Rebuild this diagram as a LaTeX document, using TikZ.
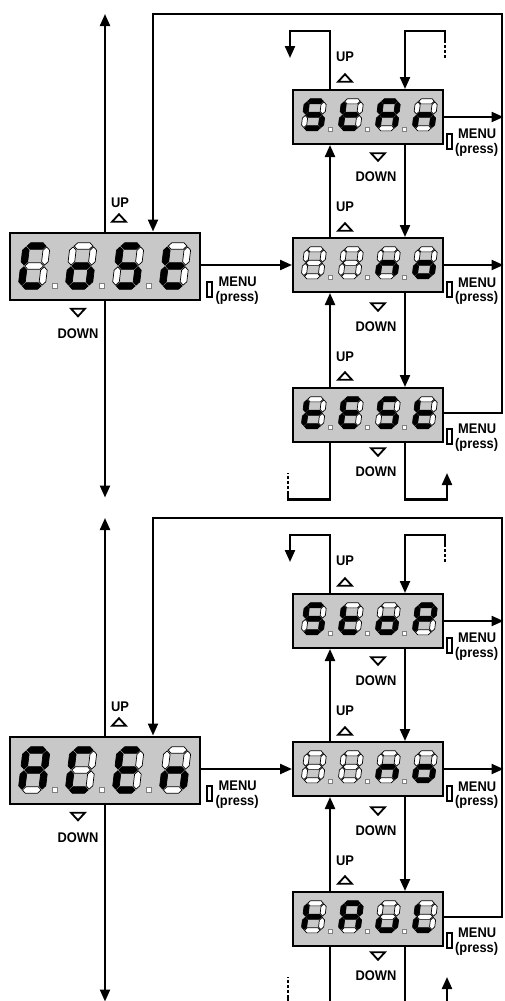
\documentclass[tikz,border=0pt]{standalone}
\usepackage{fontspec}
\newfontfamily\lblfont[FakeStretch=0.92]{Liberation Sans}
\usetikzlibrary{arrows.meta}
\definecolor{boxgray}{RGB}{200,200,200}
% seven-segment codes: a b c d e f g
\def\sgA{1110111}
\def\sgC{1001110}
\def\sgE{1001111}
\def\sgF{0000111}
\def\sgL{0001110}
\def\sgn{0010101}
\def\sgo{0011101}
\def\sgP{1100111}
\def\sgS{1011011}
\def\sgt{0001111}
\def\sgu{0011100}
\def\sgX{0000000}
\tikzset{
 conn/.style={line width=2.2pt, -{Triangle[length=12pt,width=10pt]}},
 wire/.style={line width=2.2pt},
 dsh/.style={line width=1.8pt, dash pattern=on 3pt off 2pt},
 bigbox/.style={draw, line width=2pt, fill=boxgray, minimum width=190pt, minimum height=67pt, inner sep=0pt},
 smallbox/.style={draw, line width=2pt, fill=boxgray, minimum width=150pt, minimum height=54pt, inner sep=0pt},
 lbl/.style={font=\lblfont\bfseries\fontsize{14}{14}\selectfont, inner sep=0pt},
 tri/.style={line width=1.8pt, line join=miter},
 btn/.style={line width=2pt, fill=white},
 s0/.style={fill=white, draw=black, line width=0.7pt},
 s1/.style={fill=black, draw=black, line width=0.7pt},
 dp/.style={fill=white, draw=gray, line width=0.6pt},
}
\newcommand\SegH[3]{\path[#3] (#1+\dG,#2) -- (#1+\dG+\dT,#2+\dT) -- (#1+\dW-\dG-\dT,#2+\dT) -- (#1+\dW-\dG,#2) -- (#1+\dW-\dG-\dT,#2-\dT) -- (#1+\dG+\dT,#2-\dT) -- cycle;}
\newcommand\SegV[4]{\path[#4] (#1,#2+\dG) -- (#1+\dT,#2+\dG+\dT) -- (#1+\dT,#3-\dG-\dT) -- (#1,#3-\dG) -- (#1-\dT,#3-\dG-\dT) -- (#1-\dT,#2+\dG+\dT) -- cycle;}
\def\digitcode#1#2#3#4#5#6#7{%
 \SegH{0}{\dH}{s#1}\SegV{\dW}{\dHh}{\dH}{s#2}\SegV{\dW}{0}{\dHh}{s#3}%
 \SegH{0}{0}{s#4}\SegV{0}{0}{\dHh}{s#5}\SegV{0}{\dHh}{\dH}{s#6}\SegH{0}{\dHh}{s#7}}
\newcommand\Dig[3]{\begin{scope}[shift={(#1,#2)}, y=1pt, xslant=0.12]\expandafter\digitcode#3\end{scope}}
\newcommand\BigDisp[5]{\begin{scope}[shift={(#1.center)}]
 \def\dW{20.5}\def\dH{40}\def\dHh{20}\def\dT{3.3}\def\dG{0.9}
 \Dig{-83.5}{20}{#2}\Dig{-36.5}{20}{#3}\Dig{10.5}{20}{#4}\Dig{57.5}{20}{#5}
 \foreach \k in {0,1,2}{\path[dp] (-52.5+47*\k,17) rectangle ++(5,5);}
\end{scope}}
\newcommand\SmDisp[5]{\begin{scope}[shift={(#1.center)}]
 \def\dW{17}\def\dH{27}\def\dHh{13.5}\def\dT{2.6}\def\dG{0.7}
 \Dig{-64.25}{11.25}{#2}\Dig{-27.25}{11.25}{#3}\Dig{9.75}{11.25}{#4}\Dig{46.75}{11.25}{#5}
 \foreach \k in {0,1,2}{\path[dp] (-39.25+37*\k,10.5) rectangle ++(4,4);}
\end{scope}}
\newcommand\UpTri[2]{\draw[tri] (#1-7,#2+3.8) -- (#1+7,#2+3.8) -- (#1,#2-3.8) -- cycle;}
\newcommand\DnTri[2]{\draw[tri] (#1-7,#2-3.8) -- (#1+7,#2-3.8) -- (#1,#2+3.8) -- cycle;}
\newcommand\Menu[3]{\draw[btn] (#1-2.5,#2-7.5) rectangle (#1+2.5,#2+7.5);
 \node[lbl, anchor=west] (mn#3) at (#1+9,#2-7) {MENU};
 \node[lbl, anchor=west] (pr#3) at (#1+6,#2+8.5) {(press)};}
\newcommand\Frame[1]{%
 \node[bigbox] (L#1) at (105,266) {};
 \node[smallbox] (T#1) at (368,117) {};
 \node[smallbox] (M#1) at (368,265) {};
 \node[smallbox] (B#1) at (368,415) {};
 \coordinate (lt#1) at (105,14);
 \coordinate (lb#1) at (105,497.5);
 \draw[conn] (L#1.north) -- (lt#1);
 \draw[conn] (L#1.south) -- (lb#1);
 \draw[conn] (L#1.east |- M#1) -- (M#1.west);
 \draw[conn] (B#1.east |- 0,413) -- (502,413) -- (502,14) -- (153,14) -- (L#1.north -| 153,0);
 \coordinate (tx#1) at (503.5,117);
 \coordinate (mx#1) at (503.5,265);
 \draw[conn] (T#1.east) -- (tx#1);
 \draw[conn] (M#1.east) -- (mx#1);
 \draw[conn] (M#1.north -| 330,0) -- (T#1.south -| 330,0);
 \draw[conn] (T#1.south -| 405,0) -- (M#1.north -| 405,0);
 \draw[conn] (B#1.north -| 330,0) -- (M#1.south -| 330,0);
 \draw[conn] (M#1.south -| 405,0) -- (B#1.north -| 405,0);
 \coordinate (tl#1) at (290,58);
 \draw[conn] (T#1.north -| 330,0) -- (330,31) -- (290,31) -- (tl#1);
 \coordinate (tr#1) at (445,42);
 \draw[dsh] (445,58) -- (tr#1);
 \draw[conn] (tr#1) -- (445,31) -- (405,31) -- (T#1.north -| 405,0);
 \coordinate (bl#1) at (288,494);
 \draw[wire] (B#1.south -| 330,0) -- (330,499.5) -- (288,499.5) -- (bl#1);
 \draw[dsh] (bl#1) -- (288,473);
 \coordinate (br#1) at (447,473);
 \draw[conn] (B#1.south -| 405,0) -- (405,499.5) -- (447,499.5) -- (br#1);
 \node[lbl] (upL#1) at (120,203) {UP}; \UpTri{119}{218}
 \DnTri{78}{312.5} \node[lbl] (dnL#1) at (78,333.5) {DOWN};
 \node[lbl] (upT#1) at (345,57) {UP}; \UpTri{345}{78}
 \DnTri{378}{157} \node[lbl] (dnT#1) at (376,177) {DOWN};
 \node[lbl] (upM#1) at (345,207) {UP}; \UpTri{345}{227}
 \DnTri{378}{307} \node[lbl] (dnM#1) at (376,327) {DOWN};
 \node[lbl] (upB#1) at (345,357) {UP}; \UpTri{345}{376}
 \DnTri{378}{452} \node[lbl] (dnB#1) at (376,472) {DOWN};
 \Menu{209.5}{289}{L#1}
 \Menu{449}{141}{T#1}
 \Menu{449}{289.5}{M#1}
 \Menu{449}{436}{B#1}
}
\begin{document}
\begin{tikzpicture}[x=1pt, y=-1pt]
\useasboundingbox (0,0) rectangle (504,1001);
\fill[white] (0,0) rectangle (504,1001);
\Frame{1}
\begin{scope}[yshift=-504pt]
\Frame{2}
\end{scope}
\BigDisp{L1}{\sgC}{\sgo}{\sgS}{\sgt}
\SmDisp{T1}{\sgS}{\sgt}{\sgA}{\sgn}
\SmDisp{M1}{\sgX}{\sgX}{\sgn}{\sgo}
\SmDisp{B1}{\sgt}{\sgE}{\sgS}{\sgt}
\BigDisp{L2}{\sgA}{\sgC}{\sgE}{\sgn}
\SmDisp{T2}{\sgS}{\sgt}{\sgo}{\sgP}
\SmDisp{M2}{\sgX}{\sgX}{\sgn}{\sgo}
\SmDisp{B2}{\sgF}{\sgA}{\sgu}{\sgL}
\end{tikzpicture}
\end{document}
